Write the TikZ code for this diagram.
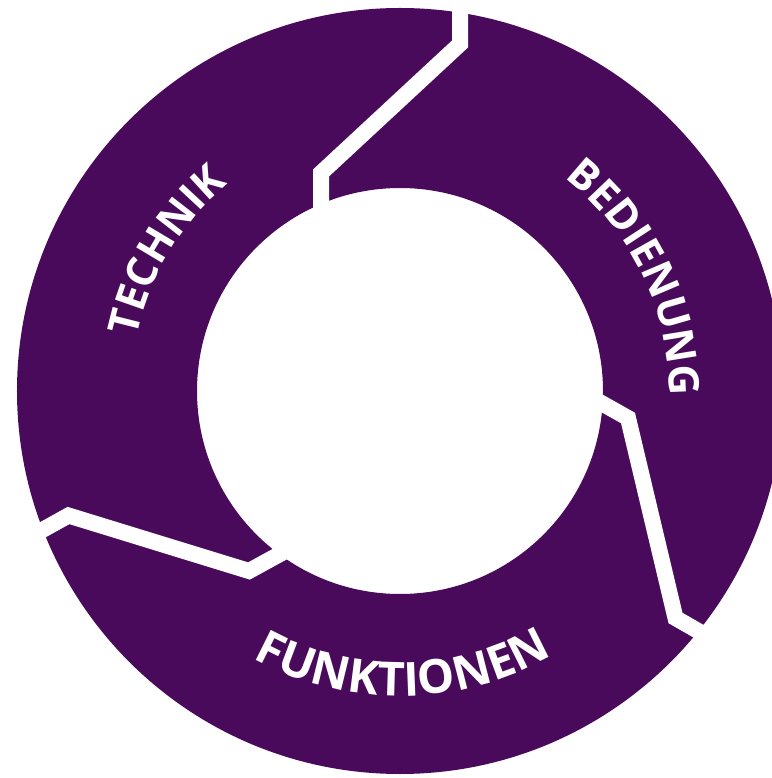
\documentclass[tikz,border=0pt]{standalone}
\usepackage{fontspec}
\setmainfont{Open Sans}
\usetikzlibrary{decorations.text}
\definecolor{ringpurple}{RGB}{73,10,91}
\newcommand\lblsmall{\fontsize{42}{42}\selectfont\bfseries\color{white}}
\newcommand\lblbig{\fontsize{47}{47}\selectfont\bfseries\color{white}}
\tikzset{
  gapline/.style={draw=white, line width=16pt, miter limit=10},
  ringlabel/.style={decorate, decoration={text along path, text align=center, #1}}
}
\begin{document}
\begin{tikzpicture}[x=1pt,y=1pt]
\useasboundingbox (-400,-387) rectangle (371,391);
\coordinate (c) at (0,0);
% ring
\fill[ringpurple, even odd rule] (c) circle[radius=383pt] (c) circle[radius=203pt];
% gaps
\coordinate (g1a) at (60,401);
\coordinate (g1b) at (60,347);
\coordinate (g1c) at (-79,218);
\coordinate (g1d) at (-79,151);
\draw[gapline] (g1a) -- (g1b) -- (g1c) -- (g1d);
\coordinate (g2a) at (180,0);
\coordinate (g2b) at (228,-27);
\coordinate (g2c) at (275.5,-227);
\coordinate (g2d) at (340,-264);
\draw[gapline] (g2a) -- (g2b) -- (g2c) -- (g2d);
\coordinate (g3a) at (-390,-157);
\coordinate (g3b) at (-331.5,-124.5);
\coordinate (g3c) at (-151,-180);
\coordinate (g3d) at (-100,-152);
\draw[gapline] (g3a) -- (g3b) -- (g3c) -- (g3d);
% labels
\path[ringlabel={text={|\lblsmall|TECHNIK}}] (189:269pt) arc[start angle=189, end angle=109, radius=269pt];
\path[ringlabel={text={|\lblsmall|BEDIENUNG}}] (70.7:269pt) arc[start angle=70.7, end angle=-19.3, radius=269pt];
\path[ringlabel={text={|\lblbig|FUNKTIONEN}}] (225.6:305pt) arc[start angle=225.6, end angle=315.6, radius=305pt];
\end{tikzpicture}
\end{document}
